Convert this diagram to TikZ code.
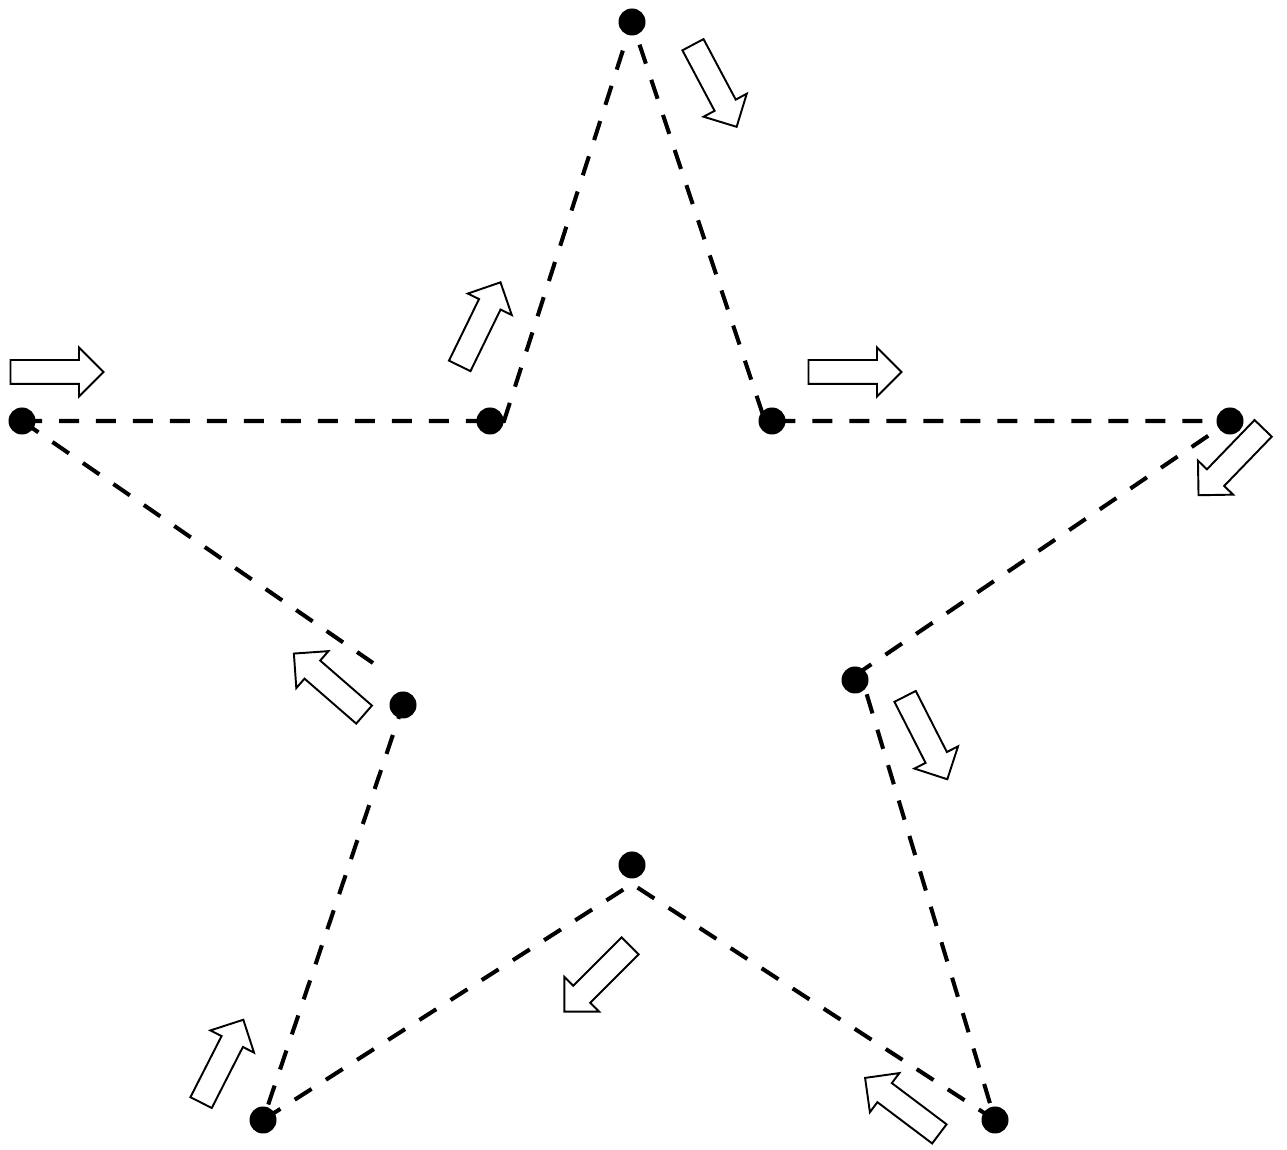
\documentclass[tikz,border=0pt]{standalone}
\usetikzlibrary{shapes.arrows}

\begin{document}
\begin{tikzpicture}[
    dot/.style={circle, fill=black, inner sep=0pt, minimum size=0.52cm},
    edge/.style={line width=2.3pt, dash pattern=on 0.4cm off 0.34cm},
    flow/.style={single arrow, draw, line width=1.1pt, fill=white, inner xsep=0pt, inner ysep=0.22cm,
                 minimum height=1.86cm, single arrow head extend=0.25cm}
]
    \useasboundingbox (0,0) rectangle (25.74,23);

    % Corner points of the star
    \node[dot] (top) at (12.64,22.56) {};
    \node[dot] (innerUR) at (15.44,14.58) {};
    \node[dot] (tipR) at (24.60,14.58) {};
    \node[dot] (innerR) at (17.10,9.40) {};
    \node[dot] (tipBR) at (19.90,0.60) {};
    \node[dot] (innerB) at (12.64,5.70) {};
    \node[dot] (tipBL) at (5.26,0.60) {};
    \node[dot] (innerL) at (8.06,8.90) {};
    \node[dot] (tipL) at (0.44,14.58) {};
    \node[dot] (innerUL) at (9.80,14.58) {};

    % Bends of the dashed outline
    \coordinate (bendUL) at (10.08,14.58);
    \coordinate (bendUR) at (15.30,14.58);
    \coordinate (bendR) at (17.20,9.56);
    \coordinate (bendB) at (12.64,5.32);
    \coordinate (stopL) at (7.46,9.74);

    % Dashed outline
    \draw[edge] (tipL.center) -- (bendUL) -- (top.center) -- (bendUR) -- (tipR.center)
        -- (bendR) -- (tipBR.center) -- (bendB) -- (tipBL.center) -- (innerL.center);
    \draw[edge] (tipL.center) -- (stopL);

    % Dots on top of the outline
    \foreach \p in {top, innerUR, tipR, innerR, tipBR, innerB, tipBL, innerL, tipL, innerUL}
        \fill (\p) circle (0.27cm);

    % Direction arrows
    \node[flow, rotate=-62] (go1) at (14.24,21.39) {};
    \node[flow] (go2) at (1.02,15.56) {};
    \node[flow, rotate=64] (go3) at (9.55,16.41) {};
    \node[flow] (go4) at (16.98,15.56) {};
    \node[flow, rotate=-134] (go5) at (24.70,13.85) {};
    \node[flow, rotate=139] (go6) at (6.67,9.24) {};
    \node[flow, rotate=-63] (go7) at (18.47,8.35) {};
    \node[flow, rotate=-135] (go8) at (12.03,3.51) {};
    \node[flow, rotate=63] (go9) at (4.39,1.67) {};
    \node[flow, rotate=143] (go10) at (18.14,0.81) {};
\end{tikzpicture}
\end{document}
